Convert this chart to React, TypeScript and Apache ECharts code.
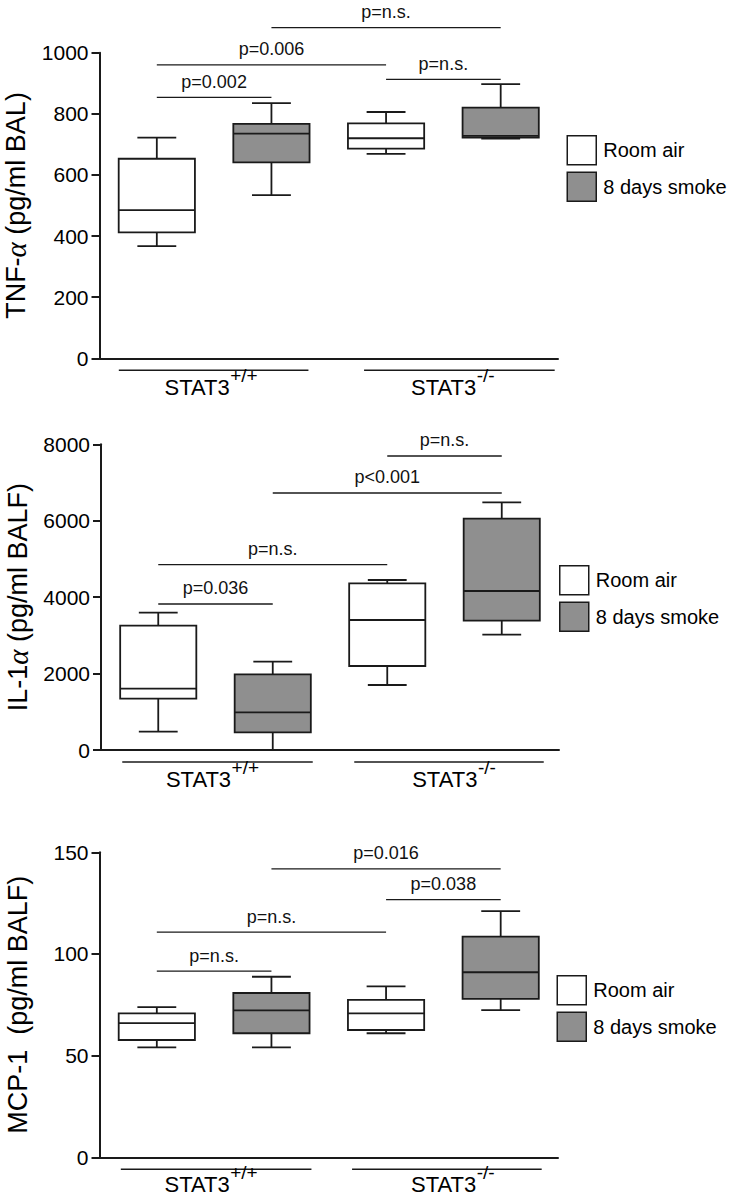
import React, { useEffect, useRef } from 'react';
import * as echarts from 'echarts';

// ---------- data ----------
const CATEGORIES = ['STAT3+/+ Room air', 'STAT3+/+ 8 days smoke', 'STAT3-/- Room air', 'STAT3-/- 8 days smoke'];
const SERIES_NAMES = ['Room air', '8 days smoke'];
const SERIES_CATS = [[0, 2], [1, 3]];
const GROUP_MAIN = ['STAT3', 'STAT3'];
const GROUP_SUP = ['+/+', '-/-'];
const GROUP_MEMBERS = [[0, 1], [2, 3]];

// [min, Q1, median, Q3, max] per category
const TNF_BOX = [
  [367, 412, 485, 653, 722],
  [534, 641, 735, 767, 835],
  [669, 686, 720, 769, 806],
  [719, 722, 728, 820, 897],
];
const IL1_BOX = [
  [479, 1343, 1604, 3253, 3594],
  [0, 463, 987, 1981, 2311],
  [1701, 2198, 3402, 4362, 4449],
  [3018, 3384, 4161, 6054, 6482],
];
const MCP_BOX = [
  [54.1, 57.7, 66.0, 70.8, 73.9],
  [54.1, 61.0, 72.3, 80.8, 88.8],
  [61.0, 62.6, 70.8, 77.4, 84.1],
  [72.4, 77.9, 91.0, 108.5, 121.1],
];

// significance brackets: [fromCategory, yValue, toCategory]
const TNF_BRACKETS = [[0, 854, 1], [0, 960, 2], [2, 913, 3], [1, 1082, 3]];
const TNF_P = ['p=0.002', 'p=0.006', 'p=n.s.', 'p=n.s.'];
const IL1_BRACKETS = [[0, 3821, 1], [0, 4849, 2], [1, 6726, 3], [2, 7694, 3]];
const IL1_P = ['p=0.036', 'p=n.s.', 'p<0.001', 'p=n.s.'];
const MCP_BRACKETS = [[0, 91.6, 1], [0, 110.7, 2], [2, 126.7, 3], [1, 141.8, 3]];
const MCP_P = ['p=n.s.', 'p=n.s.', 'p=0.038', 'p=0.016'];

const TNF_AXIS = [0, 1000, 200];
const IL1_AXIS = [0, 8000, 2000];
const MCP_AXIS = [0, 150, 50];

const TNF_TITLE = ['TNF-', 'α', ' (pg/ml BAL)'];
const IL1_TITLE = ['IL-1', 'α', ' (pg/ml BALF)'];
const MCP_TITLE = ['MCP-1  (pg/ml BALF)', '', ''];

// ---------- styles / layout ----------
const FONT = 'Arial, "Liberation Sans", sans-serif';
const INK = '#1a1a1a';
const GRAY = '#8f8f8f';
const FILLS = ['#ffffff', GRAY];
const MAIN_SIZE = 22;
const SUP_SIZE = 19;
const GROUP_SHIFT = [-3, 9.5];

const PANELS = [
  {
    box: TNF_BOX, brackets: TNF_BRACKETS, pLabels: TNF_P, axis: TNF_AXIS, title: TNF_TITLE,
    grid: { left: 99.5, top: 52.7, width: 458.5, height: 305.6 },
    legend: { left: 566.5, top: 135 },
    groupLines: [[-38, 37], [-22, 54]],
    labelDy: 28.7,
  },
  {
    box: IL1_BOX, brackets: IL1_BRACKETS, pLabels: IL1_P, axis: IL1_AXIS, title: IL1_TITLE,
    grid: { left: 101, top: 444.3, width: 458, height: 305.7 },
    legend: { left: 559, top: 565 },
    groupLines: [[-36, 40], [-33, 42]],
    labelDy: 29,
  },
  {
    box: MCP_BOX, brackets: MCP_BRACKETS, pLabels: MCP_P, axis: MCP_AXIS, title: MCP_TITLE,
    grid: { left: 99.5, top: 852.3, width: 458.5, height: 305 },
    legend: { left: 556.5, top: 975 },
    groupLines: [[-36, 40], [-34, 41]],
    labelDy: 27.3,
  },
];

let measureCtx: CanvasRenderingContext2D | null = null;
function textWidth(t: string, size: number) {
  if (!measureCtx) measureCtx = document.createElement('canvas').getContext('2d');
  if (!measureCtx) return t.length * size * 0.6;
  measureCtx.font = `${size}px ${FONT}`;
  return measureCtx.measureText(t).width;
}

function buildOption() {
  const grid: any[] = [];
  const xAxis: any[] = [];
  const yAxis: any[] = [];
  const legend: any[] = [];
  const series: any[] = [];

  PANELS.forEach((p, k) => {
    grid.push({ ...p.grid, containLabel: false, outerBoundsMode: 'none' });
    xAxis.push({
      type: 'category', gridIndex: k, data: CATEGORIES,
      axisLine: { show: true, lineStyle: { color: INK, width: 2 } },
      axisTick: { show: false }, axisLabel: { show: false }, splitLine: { show: false },
    });
    yAxis.push({
      type: 'value', gridIndex: k, min: p.axis[0], max: p.axis[1], interval: p.axis[2],
      axisLine: { show: true, lineStyle: { color: INK, width: 2 } },
      axisTick: { show: true, length: 8, lineStyle: { color: INK, width: 2 } },
      axisLabel: { color: '#000', fontSize: 21, fontFamily: FONT, margin: 11, formatter: (v: number) => String(v) },
      splitLine: { show: false },
      name: p.title[1] ? `{a|${p.title[0]}}{g|${p.title[1]}}{a|${p.title[2]}}` : `{a|${p.title[0]}}`,
      nameLocation: 'middle', nameRotate: 90, nameGap: 68,
      nameTextStyle: {
        color: '#000', fontSize: 27, fontFamily: FONT,
        rich: {
          a: { color: '#000', fontSize: 27, fontFamily: FONT },
          g: { color: '#000', fontSize: 29, fontFamily: '"Liberation Serif", "DejaVu Serif", serif', fontStyle: 'italic' },
        },
      },
    });
    legend.push({
      left: p.legend.left, top: p.legend.top, orient: 'vertical', padding: 0,
      itemWidth: 29, itemHeight: 29, itemGap: 6, selectedMode: false,
      textStyle: { fontSize: 20, color: '#000', fontFamily: FONT, padding: [0, 0, 0, 2] },
      data: SERIES_NAMES.map((n, i) => ({
        name: n, icon: 'rect',
        itemStyle: { color: FILLS[i], borderColor: INK, borderWidth: 1.5 },
      })),
    });

    // boxes: one series per condition
    SERIES_NAMES.forEach((name, si) => {
      series.push({
        type: 'custom', name, xAxisIndex: k, yAxisIndex: k, coordinateSystem: 'cartesian2d',
        encode: { x: 0, y: [1, 2, 3, 4, 5] },
        data: SERIES_CATS[si].map((c) => [c, ...p.box[c]]),
        renderItem: (params: any, api: any) => {
          const c = api.value(0);
          const v = [1, 2, 3, 4, 5].map((d) => api.value(d));
          const pts = v.map((val) => api.coord([c, val]));
          const cx = pts[0][0];
          const band = api.size([1, 0])[0];
          const bw = band * 0.665;
          const cap = bw * 0.51;
          const lineStyle = { stroke: INK, lineWidth: 1.8 };
          return {
            type: 'group',
            children: [
              { type: 'line', shape: { x1: cx, y1: pts[4][1], x2: cx, y2: pts[3][1] }, style: lineStyle },
              { type: 'line', shape: { x1: cx, y1: pts[1][1], x2: cx, y2: pts[0][1] }, style: lineStyle },
              { type: 'line', shape: { x1: cx - cap / 2, y1: pts[4][1], x2: cx + cap / 2, y2: pts[4][1] }, style: lineStyle },
              { type: 'line', shape: { x1: cx - cap / 2, y1: pts[0][1], x2: cx + cap / 2, y2: pts[0][1] }, style: lineStyle },
              {
                type: 'rect',
                shape: { x: cx - bw / 2, y: pts[3][1], width: bw, height: pts[1][1] - pts[3][1] },
                style: { fill: FILLS[si], stroke: INK, lineWidth: 1.8 },
              },
              { type: 'line', shape: { x1: cx - bw / 2, y1: pts[2][1], x2: cx + bw / 2, y2: pts[2][1] }, style: lineStyle },
            ],
          };
        },
      });
    });

    // significance brackets
    series.push({
      type: 'custom', name: 'brackets' + k, xAxisIndex: k, yAxisIndex: k, coordinateSystem: 'cartesian2d',
      encode: { x: 0, y: 1 }, clip: false, silent: true,
      data: p.brackets,
      renderItem: (params: any, api: any) => {
        const a = api.coord([api.value(0), api.value(1)]);
        const b = api.coord([api.value(2), api.value(1)]);
        const label = p.pLabels[params.dataIndex];
        return {
          type: 'group',
          children: [
            { type: 'line', shape: { x1: a[0], y1: a[1], x2: b[0], y2: b[1] }, style: { stroke: INK, lineWidth: 1.3 } },
            {
              type: 'text',
              style: {
                text: label, x: (a[0] + b[0]) / 2, y: a[1] - 15.5,
                align: 'center', verticalAlign: 'middle', textAlign: 'center', textVerticalAlign: 'middle',
                fill: '#111', font: `18px ${FONT}`,
              },
            },
          ],
        };
      },
    });

    // group underlines and labels
    series.push({
      type: 'custom', name: 'groups' + k, xAxisIndex: k, yAxisIndex: k, coordinateSystem: 'cartesian2d',
      encode: { x: 0, y: 1 }, clip: false, silent: true,
      data: GROUP_MEMBERS.map((m) => [m[0], p.axis[0], m[1]]),
      renderItem: (params: any, api: any) => {
        const gi = params.dataIndex;
        const a = api.coord([api.value(0), api.value(1)]);
        const b = api.coord([api.value(2), api.value(1)]);
        const off = p.groupLines[gi];
        const ly = a[1] + 12;
        const center = (a[0] + b[0]) / 2 + GROUP_SHIFT[gi];
        const wm = textWidth(GROUP_MAIN[gi], MAIN_SIZE);
        const ws = textWidth(GROUP_SUP[gi], SUP_SIZE);
        const gap = 0.5;
        const x0 = center - (wm + gap + ws) / 2;
        return {
          type: 'group',
          children: [
            { type: 'line', shape: { x1: a[0] + off[0], y1: ly, x2: b[0] + off[1], y2: ly }, style: { stroke: INK, lineWidth: 1.5 } },
            {
              type: 'text',
              style: {
                text: GROUP_MAIN[gi], x: x0, y: a[1] + p.labelDy,
                align: 'left', verticalAlign: 'middle', textAlign: 'left', textVerticalAlign: 'middle',
                fill: '#000', font: `${MAIN_SIZE}px ${FONT}`,
              },
            },
            {
              type: 'text',
              style: {
                text: GROUP_SUP[gi], x: x0 + wm + gap, y: a[1] + p.labelDy - 12,
                align: 'left', verticalAlign: 'middle', textAlign: 'left', textVerticalAlign: 'middle',
                fill: '#000', font: `${SUP_SIZE}px ${FONT}`,
              },
            },
          ],
        };
      },
    });
  });

  return { animation: false, backgroundColor: '#ffffff', grid, xAxis, yAxis, legend, series };
}

export default function App() {
  const ref = useRef<HTMLDivElement>(null);
  useEffect(() => {
    if (!ref.current) return;
    const chart = echarts.init(ref.current, undefined, { renderer: 'svg' });
    chart.setOption(buildOption() as any);
    return () => chart.dispose();
  }, []);
  return (
    <div
      ref={ref}
      style={{ position: 'absolute', left: 0, top: 0, width: 735, height: 1197, background: '#fff' }}
    />
  );
}
